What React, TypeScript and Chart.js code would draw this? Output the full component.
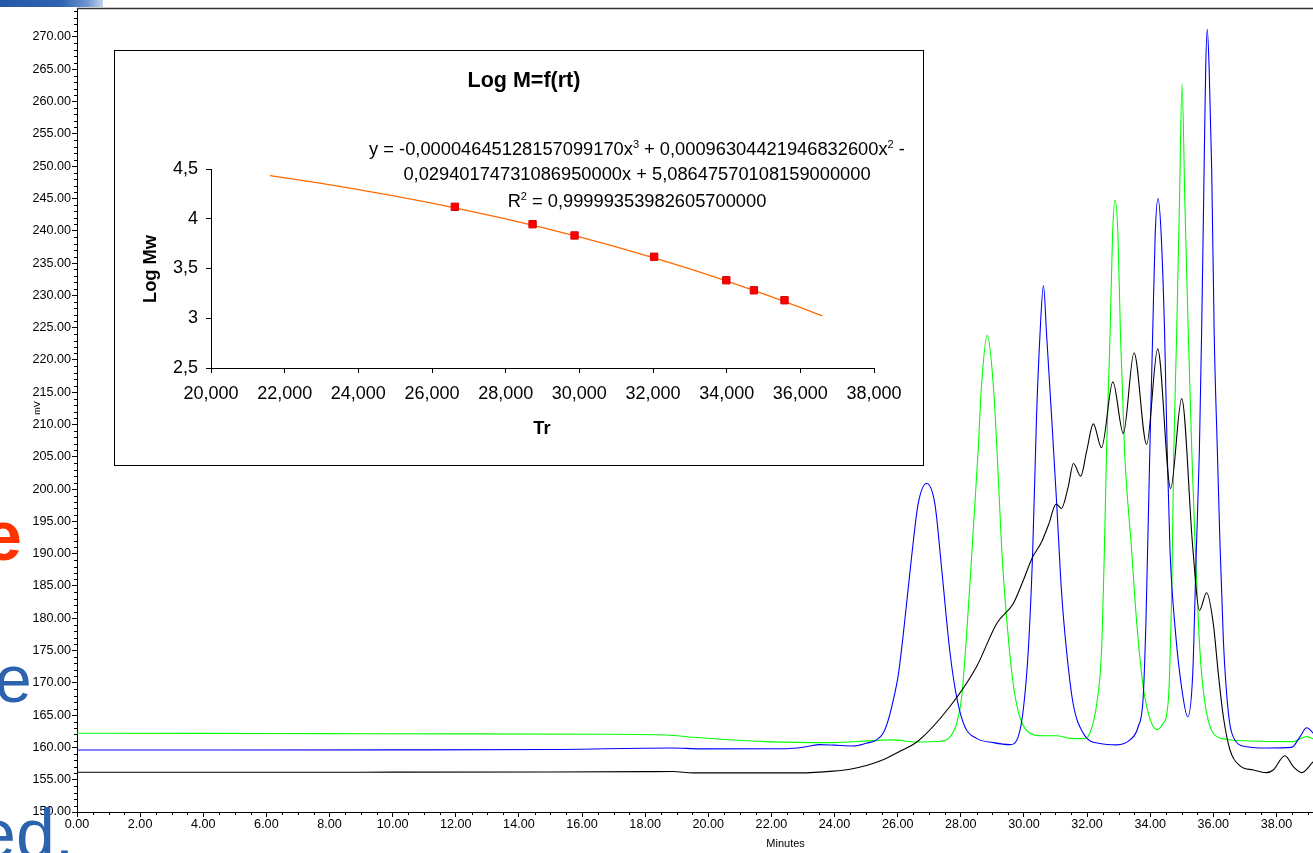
import React, { useEffect, useRef } from 'react';
import { Chart, registerables } from 'chart.js';

Chart.register(...registerables);

const FONT = "'Liberation Sans', Arial, Helvetica, sans-serif";

// ---------- Main chromatogram ----------
const X_MIN = 0;
const X_MAX = 39.16;
const Y_MIN = 150;
const Y_MAX = 274.4;
const xTickValues = [0, 2, 4, 6, 8, 10, 12, 14, 16, 18, 20, 22, 24, 26, 28, 30, 32, 34, 36, 38];
const yTickValues = [150, 155, 160, 165, 170, 175, 180, 185, 190, 195, 200, 205, 210, 215, 220, 225, 230, 235, 240, 245, 250, 255, 260, 265, 270];

const greenTimes = [0, 4, 8, 12, 16.56, 18.67, 19.52, 21.84, 23.96, 25.22, 25.86, 26.6, 27.34, 27.65, 27.87, 28.03, 28.18, 28.29, 28.4, 28.55, 28.66, 28.84, 29.03, 29.15, 29.3, 29.45, 29.66, 29.87, 30.19, 30.61, 31.04, 31.46, 31.88, 32.09, 32.31, 32.46, 32.55, 32.62, 32.73, 32.81, 32.89, 32.98, 33.06, 33.19, 33.41, 33.57, 33.78, 33.99, 34.21, 34.41, 34.52, 34.6, 34.69, 34.75, 34.84, 34.93, 35.01, 35.1, 35.21, 35.32, 35.42, 35.53, 35.63, 35.79, 36.0, 36.42, 37.16, 38.54, 38.75, 38.96, 39.17];
const greenMv = [162.2, 162.17, 162.13, 162.1, 162.04, 161.93, 161.57, 160.9, 160.74, 161.05, 161.16, 160.85, 160.96, 161.57, 163.7, 167.8, 177.1, 185.3, 194.0, 205.9, 216.2, 223.8, 216.2, 205.9, 190.5, 180.2, 169.9, 164.75, 162.2, 161.8, 161.8, 161.4, 161.36, 162.2, 166.8, 175.05, 190.5, 205.9, 223.9, 239.4, 244.7, 239.4, 223.9, 205.9, 190.8, 179.6, 169.4, 164.5, 162.75, 163.7, 165.0, 169.4, 186.0, 205.9, 223.9, 244.5, 262.75, 244.5, 223.9, 205.9, 192.0, 179.2, 171.45, 165.3, 162.2, 161.26, 161.0, 160.9, 161.3, 161.67, 161.3];

const blueTimes = [0, 5, 10, 15, 18.88, 19.73, 22.48, 23.1, 23.53, 24.0, 24.59, 25.01, 25.33, 25.54, 25.7, 25.86, 26.02, 26.17, 26.44, 26.65, 26.92, 27.18, 27.39, 27.65, 27.87, 28.13, 28.5, 29.03, 29.56, 29.82, 29.98, 30.14, 30.28, 30.4, 30.51, 30.62, 30.72, 30.88, 31.04, 31.19, 31.35, 31.56, 31.88, 32.41, 32.94, 33.36, 33.62, 33.78, 33.87, 33.99, 34.08, 34.16, 34.25, 34.35, 34.46, 34.54, 34.63, 34.8, 35.02, 35.19, 35.35, 35.46, 35.56, 35.63, 35.71, 35.76, 35.81, 35.87, 35.95, 36.03, 36.13, 36.21, 36.32, 36.48, 36.63, 37.06, 37.69, 38.48, 38.75, 38.96, 39.17];
const blueMv = [159.6, 159.6, 159.62, 159.68, 159.92, 159.77, 159.8, 160.1, 160.43, 160.35, 160.23, 160.65, 161.16, 162.2, 164.2, 167.3, 171.2, 177.1, 189.4, 197.7, 200.86, 197.7, 187.9, 175.05, 167.8, 163.2, 161.4, 160.74, 160.43, 161.67, 165.8, 175.05, 190.5, 211.05, 223.9, 231.5, 223.9, 211.05, 197.7, 184.3, 175.05, 166.8, 162.2, 160.6, 160.4, 161.16, 163.2, 167.8, 180.0, 205.9, 223.9, 239.4, 245.0, 239.4, 223.9, 205.9, 190.5, 178.0, 168.5, 164.75, 171.45, 190.0, 205.9, 223.9, 249.6, 265.1, 271.2, 265.1, 249.6, 223.9, 205.9, 192.0, 176.6, 165.3, 161.67, 160.1, 159.9, 160.0, 161.67, 163.05, 162.2];

const blackTimes = [0, 5, 10, 15, 18.0, 18.88, 19.52, 22.9, 23.96, 24.49, 25.01, 25.54, 26.07, 26.65, 27.65, 28.5, 29.14, 29.66, 29.98, 30.26, 30.56, 30.79, 31.02, 31.19, 31.4, 31.57, 31.8, 31.99, 32.2, 32.46, 32.82, 33.15, 33.49, 33.89, 34.24, 34.65, 35.0, 35.35, 35.56, 35.79, 36.0, 36.16, 36.32, 36.53, 36.85, 37.27, 37.69, 37.9, 38.27, 38.54, 38.8, 39.17];
const blackMv = [156.15, 156.15, 156.17, 156.2, 156.25, 156.27, 156.06, 156.06, 156.33, 156.63, 157.2, 158.1, 159.4, 161.0, 166.3, 172.5, 179.2, 182.25, 185.85, 189.3, 191.8, 194.6, 197.7, 197.0, 200.25, 203.95, 202.0, 205.9, 210.1, 206.4, 216.6, 208.6, 221.1, 206.9, 221.7, 200.1, 214.0, 191.0, 181.2, 183.95, 179.2, 171.45, 164.75, 159.6, 157.15, 156.5, 156.1, 156.5, 158.7, 157.0, 156.1, 157.8];

// ---------- Inset: Log M = f(rt) ----------
const insetXTicks = [20, 22, 24, 26, 28, 30, 32, 34, 36, 38];
const insetYTicks = [2.5, 3, 3.5, 4, 4.5];
const calTr = [26.62, 28.73, 29.87, 32.03, 33.99, 34.74, 35.57];
const calLogMw = [4.12, 3.945, 3.832, 3.618, 3.382, 3.281, 3.181];
const fitTr = [21.6, 23, 24, 25, 26, 27, 28, 29, 30, 31, 32, 33, 34, 35, 36, 36.6];
const fitLogMw = [4.433, 4.355, 4.293, 4.228, 4.157, 4.08, 3.999, 3.911, 3.817, 3.717, 3.61, 3.496, 3.374, 3.246, 3.109, 3.023];
const insetTitle = 'Log M=f(rt)';
const eqLine1 = [
  { t: 'y = -0,00004645128157099170x', sup: false },
  { t: '3', sup: true },
  { t: ' + 0,00096304421946832600x', sup: false },
  { t: '2', sup: true },
  { t: ' -', sup: false },
];
const eqLine2 = [{ t: '0,02940174731086950000x + 5,08647570108159000000', sup: false }];
const eqLine3 = [
  { t: 'R', sup: false },
  { t: '2', sup: true },
  { t: ' = 0,99999353982605700000', sup: false },
];

const zip = (xs: number[], ys: number[]) => xs.map((x, i) => ({ x, y: ys[i] }));

const mainDecor = {
  id: 'mainDecor',
  afterDraw(chart: any) {
    const { ctx, chartArea, scales } = chart;
    const xs = scales.x;
    const ys = scales.y;
    ctx.save();
    ctx.strokeStyle = '#000';
    ctx.lineWidth = 1;
    ctx.beginPath();
    for (let v = Y_MIN; v <= Math.floor(Y_MAX); v += 1) {
      if (v % 5 === 0) continue;
      const py = Math.round(ys.getPixelForValue(v)) + 0.5;
      ctx.moveTo(chartArea.left - 3, py);
      ctx.lineTo(chartArea.left, py);
    }
    for (let k = 1; k * 0.5 < X_MAX; k++) {
      if (k % 4 === 0) continue;
      const px = Math.round(xs.getPixelForValue(k * 0.5)) + 0.5;
      ctx.moveTo(px, chartArea.bottom);
      ctx.lineTo(px, chartArea.bottom + 3);
    }
    ctx.stroke();
    ctx.strokeStyle = '#333';
    ctx.lineWidth = 1.5;
    ctx.beginPath();
    ctx.moveTo(chartArea.left, chartArea.top);
    ctx.lineTo(chartArea.right, chartArea.top);
    ctx.stroke();
    ctx.fillStyle = '#000';
    ctx.textAlign = 'center';
    ctx.textBaseline = 'middle';
    ctx.font = `11px ${FONT}`;
    ctx.fillText('Minutes', xs.getPixelForValue(22.45), 844);
    ctx.translate(38, 408);
    ctx.rotate(-Math.PI / 2);
    ctx.font = `9px ${FONT}`;
    ctx.fillText('mV', 0, 0);
    ctx.restore();
  },
};

function drawRich(ctx: CanvasRenderingContext2D, parts: { t: string; sup: boolean }[], cx: number, baseline: number, size: number) {
  const main = `${size}px ${FONT}`;
  const sup = `${Math.round(size * 0.62)}px ${FONT}`;
  let total = 0;
  for (const p of parts) {
    ctx.font = p.sup ? sup : main;
    total += ctx.measureText(p.t).width;
  }
  let x = cx - total / 2;
  ctx.textAlign = 'left';
  ctx.textBaseline = 'alphabetic';
  for (const p of parts) {
    ctx.font = p.sup ? sup : main;
    ctx.fillText(p.t, x, p.sup ? baseline - size * 0.4 : baseline);
    x += ctx.measureText(p.t).width;
  }
}

const insetDecor = {
  id: 'insetDecor',
  afterDraw(chart: any) {
    const { ctx } = chart;
    ctx.save();
    ctx.fillStyle = '#000';
    ctx.textAlign = 'center';
    ctx.textBaseline = 'middle';
    ctx.font = `bold 21.5px ${FONT}`;
    ctx.fillText(insetTitle, 409, 30);
    drawRich(ctx, eqLine1, 522, 104, 18.3);
    drawRich(ctx, eqLine2, 522, 129, 18.3);
    drawRich(ctx, eqLine3, 522, 156, 18.3);
    ctx.textAlign = 'center';
    ctx.textBaseline = 'middle';
    ctx.font = `bold 18.3px ${FONT}`;
    ctx.fillText('Tr', 427, 378);
    ctx.translate(36, 218);
    ctx.rotate(-Math.PI / 2);
    ctx.fillText('Log Mw', 0, 0);
    ctx.restore();
  },
};

export default function App() {
  const mainRef = useRef<HTMLCanvasElement>(null);
  const insetRef = useRef<HTMLCanvasElement>(null);

  useEffect(() => {
    const tickFont = { family: FONT, size: 12.6 };
    const main = new Chart(mainRef.current as HTMLCanvasElement, {
      type: 'line',
      data: {
        datasets: [
          { label: 'black', data: zip(blackTimes, blackMv), borderColor: '#000000', borderWidth: 1.1, pointRadius: 0, fill: false, cubicInterpolationMode: 'monotone' },
          { label: 'blue', data: zip(blueTimes, blueMv), borderColor: '#0000FF', borderWidth: 1.1, pointRadius: 0, fill: false, cubicInterpolationMode: 'monotone' },
          { label: 'green', data: zip(greenTimes, greenMv), borderColor: '#00FF00', borderWidth: 1.1, pointRadius: 0, fill: false, cubicInterpolationMode: 'monotone' },
        ],
      },
      options: {
        responsive: false,
        maintainAspectRatio: false,
        animation: false,
        layout: { padding: { top: 6, right: 0, bottom: 0, left: 0 } },
        plugins: { legend: { display: false }, tooltip: { enabled: false }, title: { display: false } },
        scales: {
          x: {
            type: 'linear',
            min: X_MIN,
            max: X_MAX,
            afterFit: (s: any) => { s.height = 41; },
            afterBuildTicks: (s: any) => { s.ticks = xTickValues.map((value) => ({ value })); },
            ticks: { callback: (v: any) => Number(v).toFixed(2), font: tickFont, color: '#000', padding: 0, maxRotation: 0, minRotation: 0, autoSkip: false },
            grid: { display: true, drawOnChartArea: false, drawTicks: true, tickLength: 5, color: '#000', lineWidth: 1 },
            border: { display: true, color: '#000', width: 1 },
          },
          y: {
            type: 'linear',
            min: Y_MIN,
            max: Y_MAX,
            afterFit: (s: any) => { s.width = 77; },
            afterBuildTicks: (s: any) => { s.ticks = yTickValues.map((value) => ({ value })); },
            ticks: { callback: (v: any) => Number(v).toFixed(2), font: tickFont, color: '#000', padding: 1, autoSkip: false },
            grid: { display: true, drawOnChartArea: false, drawTicks: true, tickLength: 5, color: '#000', lineWidth: 1 },
            border: { display: true, color: '#000', width: 1 },
          },
        },
      } as any,
      plugins: [mainDecor],
    });

    const insetFont = { family: FONT, size: 18 };
    const inset = new Chart(insetRef.current as HTMLCanvasElement, {
      type: 'scatter',
      data: {
        datasets: [
          { label: 'points', data: zip(calTr, calLogMw), showLine: false, pointStyle: 'rect', pointRadius: 5.2, backgroundColor: '#FF0000', borderColor: '#D80000', borderWidth: 1, order: 0 },
          { label: 'fit', data: zip(fitTr, fitLogMw), showLine: true, pointRadius: 0, borderColor: '#FF6A00', borderWidth: 1.3, fill: false, cubicInterpolationMode: 'monotone', order: 1 },
        ],
      },
      options: {
        responsive: false,
        maintainAspectRatio: false,
        animation: false,
        layout: { padding: { top: 118, right: 49, bottom: 0, left: 0 } },
        plugins: { legend: { display: false }, tooltip: { enabled: false }, title: { display: false } },
        scales: {
          x: {
            type: 'linear',
            min: 20,
            max: 38,
            afterFit: (s: any) => { s.height = 97; },
            afterBuildTicks: (s: any) => { s.ticks = insetXTicks.map((value) => ({ value })); },
            ticks: { callback: (v: any) => Number(v).toFixed(3).replace('.', ','), font: insetFont, color: '#000', padding: 10, maxRotation: 0, minRotation: 0, autoSkip: false },
            grid: { display: true, drawOnChartArea: false, drawTicks: true, tickLength: 5, color: '#000', lineWidth: 1 },
            border: { display: true, color: '#000', width: 1 },
          },
          y: {
            type: 'linear',
            min: 2.5,
            max: 4.5,
            afterFit: (s: any) => { s.width = 96; },
            afterBuildTicks: (s: any) => { s.ticks = insetYTicks.map((value) => ({ value })); },
            ticks: { callback: (v: any) => String(v).replace('.', ','), font: insetFont, color: '#000', padding: 8, autoSkip: false },
            grid: { display: true, drawOnChartArea: false, drawTicks: true, tickLength: 5, color: '#000', lineWidth: 1 },
            border: { display: true, color: '#000', width: 1 },
          },
        },
      } as any,
      plugins: [insetDecor],
    });

    return () => {
      main.destroy();
      inset.destroy();
    };
  }, []);

  const blueText = '#2C63AE';
  return (
    <div style={{ position: 'fixed', left: 0, top: 0, width: 1313, height: 853, overflow: 'hidden', background: '#fff' }}>
      <canvas ref={mainRef} width={1313} height={853} style={{ position: 'absolute', left: 0, top: 0, width: 1313, height: 853 }} />
      <div style={{ position: 'absolute', left: 114, top: 50, width: 810, height: 416, boxSizing: 'border-box', border: '1px solid #000', background: '#fff' }}>
        <canvas ref={insetRef} width={808} height={414} style={{ position: 'absolute', left: 0, top: 0, width: 808, height: 414 }} />
      </div>
      <div style={{ position: 'absolute', left: 0, top: 0, width: 103, height: 7, background: 'linear-gradient(to right, #2658A5 0%, #2E63AF 60%, #6F97CF 85%, #C2D4EE 100%)' }} />
      <span style={{ position: 'absolute', left: -17, top: 501, fontFamily: FONT, fontWeight: 'bold', fontSize: 70, lineHeight: '70px', color: '#FF3300', whiteSpace: 'nowrap' }}>e</span>
      <span style={{ position: 'absolute', left: -5, top: 646, fontFamily: FONT, fontSize: 66, lineHeight: '66px', color: blueText, whiteSpace: 'nowrap' }}>e</span>
      <span style={{ position: 'absolute', left: -23, top: 799, fontFamily: FONT, fontSize: 70, lineHeight: '70px', color: blueText, whiteSpace: 'nowrap' }}>ed.</span>
    </div>
  );
}
